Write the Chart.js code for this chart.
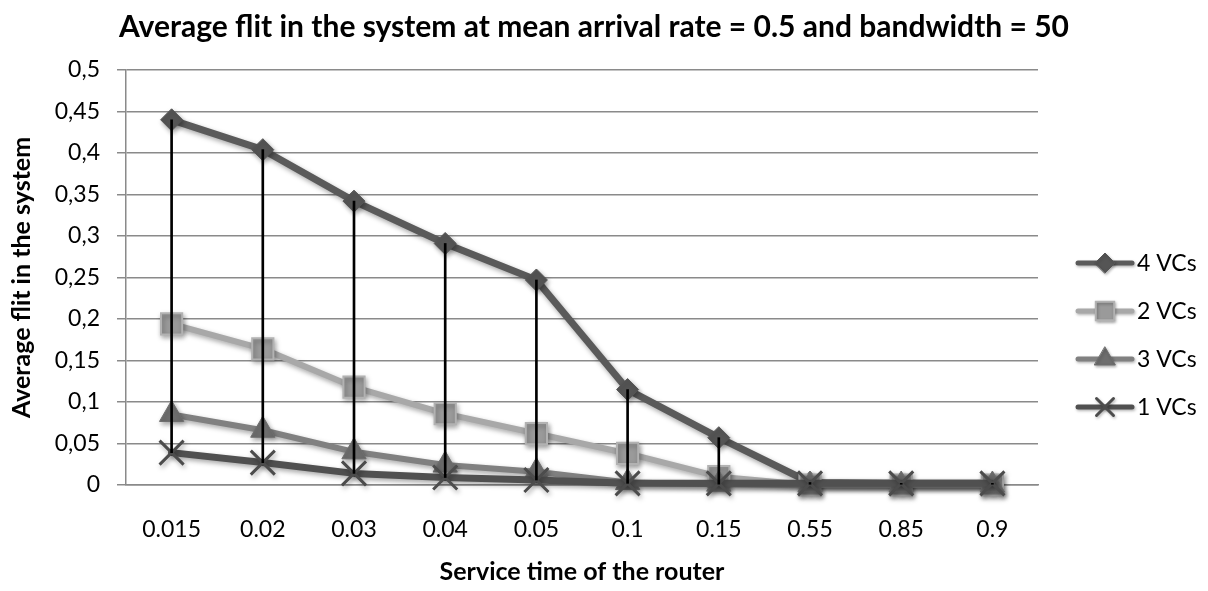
<!DOCTYPE html>
<html>
<head>
<meta charset="utf-8">
<script src="https://cdn.jsdelivr.net/npm/chart.js@4.4.1/dist/chart.umd.min.js"></script>
<style>
  html, body { margin: 0; padding: 0; background: #ffffff; }
  canvas { display: block; }
</style>
</head>
<body>
<canvas id="chart" width="1208" height="591"></canvas>
<script>
// Service time of the router (category axis)
const categories = ['0.015', '0.02', '0.03', '0.04', '0.05', '0.1', '0.15', '0.55', '0.85', '0.9'];

// Average flit in the system, one array per VC configuration
const vc4 = [0.440, 0.404, 0.342, 0.291, 0.247, 0.115, 0.057, 0.003, 0.002, 0.002];
const vc2 = [0.194, 0.164, 0.118, 0.086, 0.062, 0.038, 0.010, 0.000, 0.000, 0.000];
const vc3 = [0.085, 0.066, 0.040, 0.024, 0.016, 0.003, 0.001, 0.000, 0.000, 0.000];
const vc1 = [0.039, 0.027, 0.014, 0.009, 0.006, 0.002, 0.002, 0.002, 0.002, 0.002];

// Value axis ticks
const yTickValues = [0, 0.05, 0.1, 0.15, 0.2, 0.25, 0.3, 0.35, 0.4, 0.45, 0.5];
const yTickLabels = ['0', '0,05', '0,1', '0,15', '0,2', '0,25', '0,3', '0,35', '0,4', '0,45', '0,5'];

// High-low lines: span from the lowest to the highest series at each category
const highLow = categories.map((_, i) => {
  const v = [vc4[i], vc2[i], vc3[i], vc1[i]];
  return [Math.min(...v), Math.max(...v)];
});

const FONT = 'Lato';
const GRID = '#8A8A8A';

// Soft drop shadow under the series lines and markers
const seriesShadow = {
  id: 'seriesShadow',
  beforeDatasetDraw(chart, args) {
    if (args.meta.type !== 'line') return;
    const ctx = chart.ctx;
    ctx.save();
    ctx.shadowColor = 'rgba(0,0,0,0.35)';
    ctx.shadowBlur = 5;
    ctx.shadowOffsetX = 1.5;
    ctx.shadowOffsetY = 2.5;
  },
  afterDatasetDraw(chart, args) {
    if (args.meta.type !== 'line') return;
    chart.ctx.restore();
  }
};

// Legend at the right: short line sample with the series marker, then the label
const sideLegend = {
  id: 'sideLegend',
  afterDraw(chart, args, opts) {
    const ctx = chart.ctx;
    const area = chart.chartArea;
    const x1 = area.right + 40, x2 = area.right + 94, xm = area.right + 67, xt = area.right + 99;
    const y0 = area.top + 193;
    const series = chart.data.datasets.filter(d => d.type === 'line');
    series.forEach((ds, i) => {
      const y = y0 + i * opts.spacing;
      ctx.save();
      ctx.shadowColor = 'rgba(0,0,0,0.3)';
      ctx.shadowBlur = 3;
      ctx.shadowOffsetX = 1;
      ctx.shadowOffsetY = 1.5;
      ctx.strokeStyle = ds.borderColor;
      ctx.lineWidth = 5;
      ctx.lineCap = 'round';
      ctx.beginPath();
      ctx.moveTo(x1, y);
      ctx.lineTo(x2, y);
      ctx.stroke();
      ctx.fillStyle = ds.pointBackgroundColor;
      ctx.strokeStyle = ds.pointBorderColor;
      ctx.lineWidth = ds.pointBorderWidth;
      Chart.helpers.drawPoint(ctx, {
        pointStyle: ds.pointStyle,
        radius: opts.radii[i],
        borderWidth: ds.pointBorderWidth,
        rotation: 0
      }, xm, y);
      ctx.restore();
      ctx.save();
      ctx.fillStyle = '#000000';
      ctx.font = '23px ' + FONT;
      ctx.textAlign = 'left';
      ctx.textBaseline = 'middle';
      ctx.fillText(ds.label, xt, y + 1);
      ctx.restore();
    });
  }
};

const lineBase = {
  type: 'line',
  fill: false,
  tension: 0,
  clip: false,
  borderJoinStyle: 'round',
  borderCapStyle: 'round',
  pointHoverRadius: 0
};

new Chart(document.getElementById('chart'), {
  type: 'line',
  data: {
    labels: categories,
    datasets: [
      Object.assign({}, lineBase, {
        label: '4 VCs', data: vc4, order: 4,
        borderColor: '#5A5A5A', borderWidth: 7,
        pointStyle: 'rectRot', pointRadius: 11,
        pointBackgroundColor: '#555555', pointBorderColor: '#555555', pointBorderWidth: 1
      }),
      Object.assign({}, lineBase, {
        label: '2 VCs', data: vc2, order: 3,
        borderColor: '#A8A8A8', borderWidth: 6,
        pointStyle: 'rect', pointRadius: 15,
        pointBackgroundColor: '#9A9A9A', pointBorderColor: '#B2B2B2', pointBorderWidth: 2
      }),
      Object.assign({}, lineBase, {
        label: '3 VCs', data: vc3, order: 2,
        borderColor: '#808080', borderWidth: 6,
        pointStyle: 'triangle', pointRadius: 14,
        pointBackgroundColor: '#6E6E6E', pointBorderColor: '#6E6E6E', pointBorderWidth: 1
      }),
      Object.assign({}, lineBase, {
        label: '1 VCs', data: vc1, order: 1,
        borderColor: '#505050', borderWidth: 7,
        pointStyle: 'crossRot', pointRadius: 17,
        pointBackgroundColor: '#4C4C4C', pointBorderColor: '#4C4C4C', pointBorderWidth: 3
      }),
      {
        type: 'bar',
        label: 'high-low',
        data: highLow,
        order: 0,
        backgroundColor: '#000000',
        borderWidth: 0,
        barThickness: 2,
        grouped: false
      }
    ]
  },
  options: {
    responsive: false,
    devicePixelRatio: 1,
    animation: false,
    events: [],
    layout: { padding: { left: 0, top: 0, right: 20, bottom: 0 } },
    plugins: {
      legend: { display: false },
      tooltip: { enabled: false },
      title: {
        display: true,
        text: 'Average flit in the system at mean arrival rate = 0.5 and bandwidth = 50',
        color: '#000000',
        font: { family: FONT, size: 30, weight: 'bold', lineHeight: 1.2 },
        padding: { top: 9, bottom: 25 }
      },
      sideLegend: { spacing: 48, radii: [10, 13, 12, 12] }
    },
    scales: {
      x: {
        type: 'category',
        offset: true,
        grid: { display: false, drawTicks: false },
        border: { display: true, color: GRID, width: 1.5 },
        ticks: {
          color: '#000000',
          padding: 31,
          maxRotation: 0,
          font: { family: FONT, size: 23, lineHeight: 1.2 }
        },
        title: {
          display: true,
          text: 'Service time of the router',
          color: '#000000',
          font: { family: FONT, size: 25, weight: 'bold', lineHeight: 1.2 },
          padding: { top: 0, bottom: 4 }
        },
        afterFit(scale) { scale.height = 106; }
      },
      y: {
        type: 'linear',
        position: 'left',
        min: 0,
        max: 0.5,
        afterBuildTicks(scale) { scale.ticks = yTickValues.map(v => ({ value: v })); },
        grid: { color: GRID, lineWidth: 1.5, tickLength: 9, drawTicks: true },
        border: { display: true, color: GRID, width: 1.5 },
        ticks: {
          color: '#000000',
          padding: 17,
          font: { family: FONT, size: 23, lineHeight: 1.2 },
          callback: (value, index) => yTickLabels[index]
        },
        title: {
          display: true,
          text: 'Average flit in the system',
          color: '#000000',
          font: { family: FONT, size: 25, weight: 'bold', lineHeight: 1.2 },
          padding: { top: 7, bottom: 0 }
        },
        afterFit(scale) { scale.width = 126; }
      },
      legendSpace: {
        type: 'linear',
        position: 'right',
        display: true,
        grid: { display: false, drawTicks: false, drawOnChartArea: false },
        border: { display: false },
        ticks: { display: false },
        afterFit(scale) { scale.width = 150; }
      }
    }
  },
  plugins: [seriesShadow, sideLegend]
});
</script>
</body>
</html>
